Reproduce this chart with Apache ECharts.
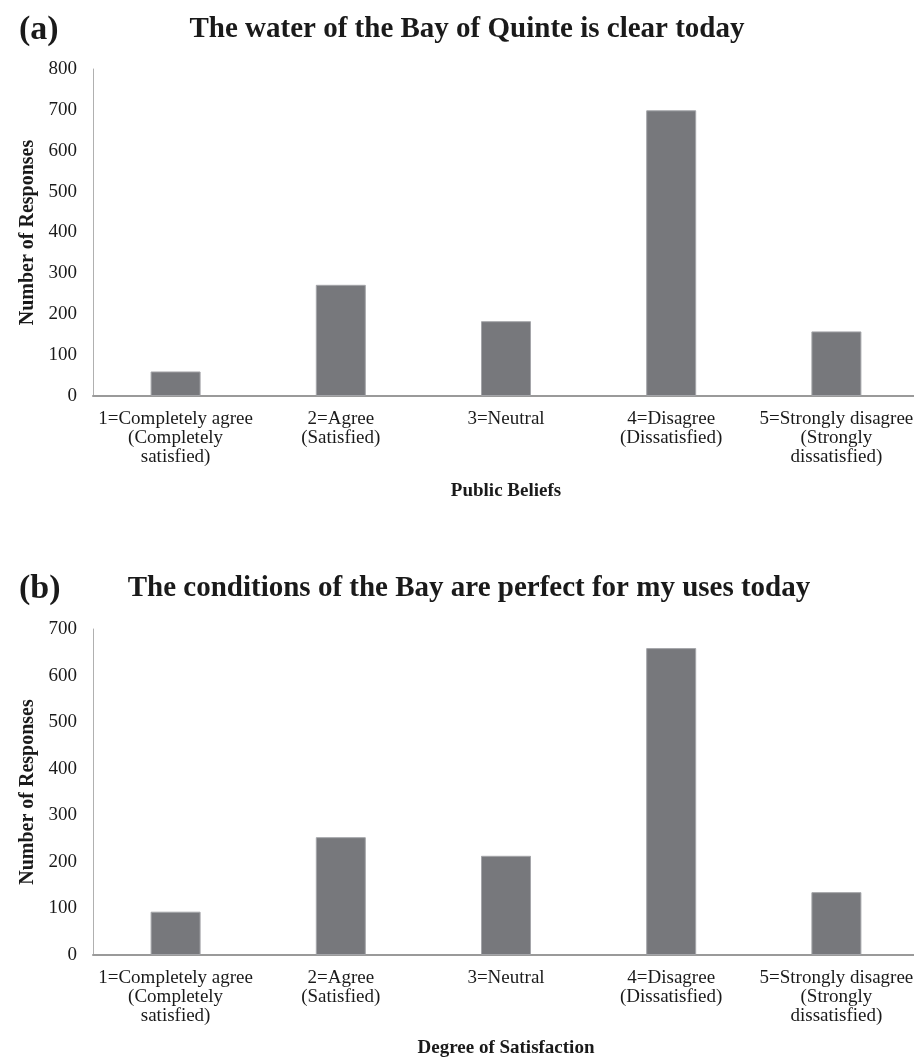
<!DOCTYPE html>
<html>
<head>
<meta charset="utf-8">
<script src="https://cdn.jsdelivr.net/npm/echarts@6/dist/echarts.min.js"></script>
<style>
html,body{margin:0;padding:0;background:#fff;}
#chart{width:914px;height:1057px;}
</style>
</head>
<body>
<div id="chart"></div>
<script>
const categories = [
  "1=Completely agree\n(Completely\nsatisfied)",
  "2=Agree\n(Satisfied)",
  "3=Neutral",
  "4=Disagree\n(Dissatisfied)",
  "5=Strongly disagree\n(Strongly\ndissatisfied)"
];
const valuesA = [60, 272, 183, 699, 158];
const valuesB = [93, 253, 213, 659, 135];
const ticksA = { min: 0, max: 800, interval: 100 };
const ticksB = { min: 0, max: 700, interval: 100 };
const titleA = "The water of the Bay of Quinte is clear today";
const titleB = "The conditions of the Bay are perfect for my uses today";
const panelA = "(a)";
const panelB = "(b)";
const xNameA = "Public Beliefs";
const xNameB = "Degree of Satisfaction";
const yName = "Number of Responses";

const FONT = "'Liberation Serif', 'Times New Roman', serif";
const TXT = '#1a1a1a';
const BAR = '#77787c';

const chart = echarts.init(document.getElementById('chart'), null, {renderer: 'canvas'});

function xAxisCfg(gridIndex, name, gap) {
  return {
    type: 'category', gridIndex, data: categories,
    name, nameLocation: 'middle', nameGap: gap,
    nameTextStyle: { fontFamily: FONT, fontSize: 19, fontWeight: 'bold', color: TXT },
    axisLine: { show: true, lineStyle: { color: '#9a9a9a', width: 2 } },
    axisTick: { show: false },
    axisLabel: { fontFamily: FONT, fontSize: 19, color: TXT, lineHeight: 19, margin: 14, interval: 0 },
    splitLine: { show: false }
  };
}
function yAxisCfg(gridIndex, t) {
  return {
    type: 'value', gridIndex, min: t.min, max: t.max, interval: t.interval,
    name: yName, nameLocation: 'middle', nameGap: 48,
    nameTextStyle: { fontFamily: FONT, fontSize: 20, fontWeight: 'bold', color: TXT },
    axisLine: { show: true, lineStyle: { color: '#b0b0b0', width: 1 } },
    axisTick: { show: false },
    axisLabel: { fontFamily: FONT, fontSize: 19, color: TXT, margin: 16 },
    splitLine: { show: false }
  };
}

const option = {
  animation: false,
  backgroundColor: '#ffffff',
  grid: [
    { left: 93, top: 69, width: 826, height: 327, containLabel: false, outerBoundsMode: 'none' },
    { left: 93, top: 629, width: 826, height: 326, containLabel: false, outerBoundsMode: 'none' }
  ],
  xAxis: [ xAxisCfg(0, xNameA, 86), xAxisCfg(1, xNameB, 84) ],
  yAxis: [ yAxisCfg(0, ticksA), yAxisCfg(1, ticksB) ],
  series: [
    { type: 'bar', xAxisIndex: 0, yAxisIndex: 0, data: valuesA, barWidth: 50,
      itemStyle: { color: BAR, borderColor: '#a4a5a9', borderWidth: 1 } },
    { type: 'bar', xAxisIndex: 1, yAxisIndex: 1, data: valuesB, barWidth: 50,
      itemStyle: { color: BAR, borderColor: '#a4a5a9', borderWidth: 1 } }
  ],
  graphic: [
    { type: 'text', x: 19, y: 30, style: { text: panelA, font: `bold 34px ${FONT}`, fill: TXT, textAlign: 'left', textVerticalAlign: 'middle' } },
    { type: 'text', x: 467, y: 30, style: { text: titleA, font: `bold 29px ${FONT}`, fill: TXT, textAlign: 'center', textVerticalAlign: 'middle' } },
    { type: 'text', x: 19, y: 589, style: { text: panelB, font: `bold 34px ${FONT}`, fill: TXT, textAlign: 'left', textVerticalAlign: 'middle' } },
    { type: 'text', x: 469, y: 589, style: { text: titleB, font: `bold 29px ${FONT}`, fill: TXT, textAlign: 'center', textVerticalAlign: 'middle' } }
  ]
};
chart.setOption(option);
</script>
</body>
</html>
